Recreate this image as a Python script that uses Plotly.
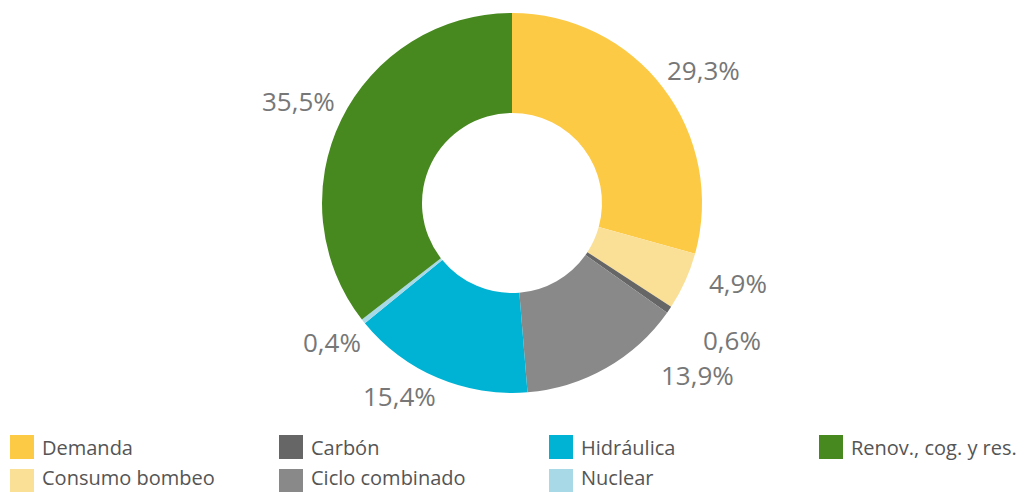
import math
import plotly.graph_objects as go

# Share of each component (%), in clockwise order starting at 12 o'clock
categories = ["Demanda", "Consumo bombeo", "Carbón", "Ciclo combinado",
              "Hidráulica", "Nuclear", "Renov., cog. y res."]
values = [29.3, 4.9, 0.6, 13.9, 15.4, 0.4, 35.5]
colors = ["#FDCA45", "#FADF97", "#666666", "#898989",
          "#00B2D3", "#A7D9E6", "#47891F"]

# Legend layout: column-major, two rows
legend_order = ["Demanda", "Consumo bombeo", "Carbón", "Ciclo combinado",
                "Hidráulica", "Nuclear", "Renov., cog. y res."]

W, H = 1024, 492
CX, CY, R = 512, 203, 190  # donut centre / outer radius in pixels
HOLE = 90 / 190

# Pixel offsets of each percentage label from the slice's outer mid-point
label_nudge = [(40, -18), (53, 2), (63, 30), (91, 7), (-38, 18), (-31, 21), (-43, -18)]

FONT = "Open Sans, sans-serif"

fig = go.Figure()
fig.add_trace(go.Pie(
    labels=categories,
    values=values,
    marker=dict(colors=colors, line=dict(width=0)),
    hole=HOLE,
    sort=False,
    direction="clockwise",
    rotation=0,
    textinfo="none",
    hoverinfo="label+percent",
    showlegend=False,
    domain=dict(x=[(CX - R) / W, (CX + R) / W],
                y=[(H - CY - R) / H, (H - CY + R) / H]),
))

def px_to_paper(x, y):
    return x / W, 1 - y / H

annotations = []
shapes = []
total = sum(values)
cum = 0.0
for v, (dx, dy) in zip(values, label_nudge):
    mid = (cum + v / 2) / total * 2 * math.pi
    cum += v
    bx = CX + R * math.sin(mid)
    by = CY - R * math.cos(mid)
    px, py = px_to_paper(bx + dx, by + dy)
    txt = f"{v:.1f}%".replace(".", ",")
    annotations.append(dict(
        x=px, y=py, xref="paper", yref="paper", text=txt, showarrow=False,
        xanchor="center", yanchor="middle",
        font=dict(family=FONT, size=26, color="#777777"),
    ))

# Legend drawn as swatches plus labels
col_x = [10, 279, 549, 819]
row_y = [447, 481]
for i, name in enumerate(legend_order):
    col, row = divmod(i, 2)
    sx, sy = col_x[col], row_y[row]
    c = colors[categories.index(name)]
    x0, y0 = px_to_paper(sx, sy - 12)
    x1, y1 = px_to_paper(sx + 24, sy + 12)
    shapes.append(dict(type="rect", xref="paper", yref="paper",
                       x0=x0, x1=x1, y0=y1, y1=y0,
                       fillcolor=c, line=dict(width=0)))
    tx, ty = px_to_paper(sx + 31, sy)
    if row == 1:
        # bottom row sits against the lower edge of the page
        ty, yanchor = 0, "bottom"
    else:
        yanchor = "middle"
    annotations.append(dict(
        x=tx, y=ty, xref="paper", yref="paper", text=name, showarrow=False,
        xanchor="left", yanchor=yanchor, borderpad=0,
        font=dict(family=FONT, size=20, color="#555555"),
    ))

fig.update_layout(
    width=W, height=H,
    margin=dict(l=0, r=0, t=0, b=0),
    paper_bgcolor="white",
    plot_bgcolor="white",
    annotations=annotations,
    shapes=shapes,
    separators=",.",
)

fig.write_html("out.html")
